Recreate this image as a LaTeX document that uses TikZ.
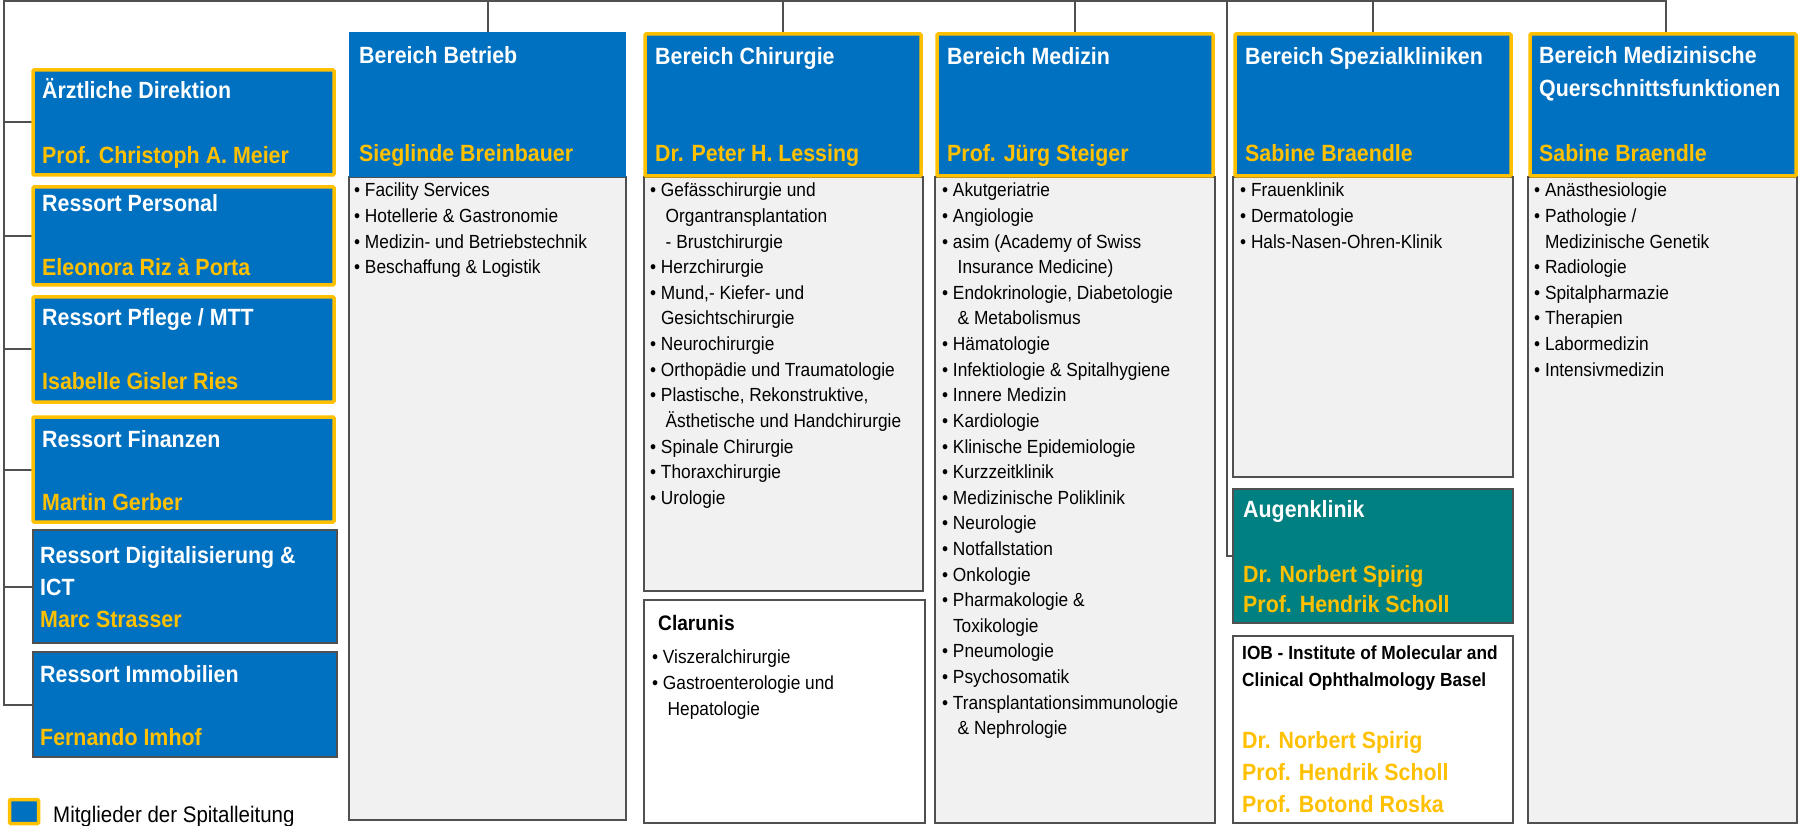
\documentclass[tikz,border=0pt]{standalone}
\usepackage{fontspec}
\setmainfont{Liberation Sans}[FakeStretch=0.91]
\definecolor{ksbblue}{RGB}{0,112,192}
\definecolor{ksbyellow}{RGB}{255,192,0}
\definecolor{ksbgray}{RGB}{241,241,241}
\definecolor{ksbline}{RGB}{80,80,80}
\definecolor{ksbteal}{RGB}{0,128,128}
\pgfdeclarelayer{bg}
\pgfsetlayers{bg,main}
\newcommand\bu{\makebox[10.8pt][l]{•}}
\newcommand\ct{\hspace*{10.8pt}}
\newcommand\cc{\hspace*{15.5pt}}
\newcommand\cm{,}
\newcommand\mkbox[6]{\node[#2, anchor=north west, minimum width=#5pt-#3pt, minimum height=#6pt-#4pt] (#1) at (#3,#4) {};}
\newcommand\listat[5]{\foreach \t [count=\i] in {#5} {\node[lst] (#1-\i) at ({#2},{#3+(\i-1)*#4}) {\t};}}
\tikzset{
 boxbase/.style={rectangle, inner sep=0pt, outer sep=0pt},
 lead/.style={boxbase, fill=ksbblue, draw=ksbyellow, line width=3.5pt, rounded corners=1pt},
 plainblue/.style={boxbase, fill=ksbblue, draw=ksbline, line width=2pt},
 bluehead/.style={boxbase, fill=ksbblue},
 body/.style={boxbase, fill=ksbgray, draw=ksbline, line width=2pt},
 whitebody/.style={boxbase, fill=white, draw=ksbline, line width=2pt},
 tealbox/.style={boxbase, fill=ksbteal, draw=ksbline, line width=2pt},
 conn/.style={draw=ksbline, line width=2pt},
 ttl/.style={inner sep=0pt, anchor=base west, text=white, font=\bfseries\fontsize{23.5}{28}\selectfont},
 nm/.style={ttl, text=ksbyellow},
 blk/.style={ttl, text=black, font=\bfseries\fontsize{21}{25}\selectfont},
 lst/.style={inner sep=0pt, anchor=base west, text=black, font=\fontsize{19}{23}\selectfont},
}
\begin{document}
\begin{tikzpicture}[x=1pt,y=-1pt]
\useasboundingbox (0,0) rectangle (1800,826);
\clip (0,0) rectangle (1800,826);
% column bodies
\mkbox{betriebB}{body}{349}{177}{626}{820}
\mkbox{chirB}{body}{644}{177}{923}{591}
\mkbox{clarunis}{whitebody}{644}{600}{925}{823}
\mkbox{medB}{body}{935}{177}{1215}{823}
\mkbox{spezB}{body}{1233}{177}{1513}{477}
\mkbox{augen}{tealbox}{1233}{489}{1513}{623}
\mkbox{iob}{whitebody}{1233}{636}{1513}{823}
\mkbox{querB}{body}{1528}{177}{1797}{823}
% column headers
\mkbox{betrieb}{bluehead}{349}{32}{626}{177}
\mkbox{chir}{lead}{645}{34}{921}{176}
\mkbox{med}{lead}{937}{34}{1213}{176}
\mkbox{spez}{lead}{1235}{34}{1511}{176}
\mkbox{quer}{lead}{1530}{34}{1796}{176}
% left column
\mkbox{aerzt}{lead}{33}{70}{334}{175}
\mkbox{personal}{lead}{33}{187}{334}{285}
\mkbox{pflege}{lead}{33}{297}{334}{402}
\mkbox{finanzen}{lead}{33}{417}{334}{522}
\mkbox{digital}{plainblue}{33}{530}{337}{643}
\mkbox{immo}{plainblue}{33}{652}{337}{757}
% legend box
\mkbox{legend}{lead}{9.5}{799.5}{38.5}{823.5}
% connectors
\coordinate (corner) at (3.5,1.2);
\coordinate (querbus) at (1666,1.2);
\coordinate (augbus) at (1227,1.2);
\begin{pgfonlayer}{bg}
\draw[conn] (immo.west) -| (corner) -- (querbus) -- (querbus |- quer.north);
\foreach \b in {aerzt,personal,pflege,finanzen,digital} {\draw[conn] (\b.west) -- (\b.west -| corner);}
\foreach \b in {betrieb,chir,med,spez} {\draw[conn] (\b.north) -- (\b.north |- corner);}
\draw[conn] (augen.west) -| (augbus);
\end{pgfonlayer}
% left texts
\node[ttl] (aerzt-t) at (42,99) {Ärztliche Direktion};
\node[nm] (aerzt-n) at (42,164) {Prof. Christoph A. Meier};
\node[ttl] (personal-t) at (42,212) {Ressort Personal};
\node[nm] (personal-n) at (42,276) {Eleonora Riz à Porta};
\node[ttl] (pflege-t) at (42,326) {Ressort Pflege / MTT};
\node[nm] (pflege-n) at (42,390) {Isabelle Gisler Ries};
\node[ttl] (finanzen-t) at (42,447) {Ressort Finanzen};
\node[nm] (finanzen-n) at (42,510) {Martin Gerber};
\node[ttl] (digital-t1) at (40,563) {Ressort Digitalisierung \&};
\node[ttl] (digital-t2) at (40,595) {ICT};
\node[nm] (digital-n) at (40,627) {Marc Strasser};
\node[ttl] (immo-t) at (40,682) {Ressort Immobilien};
\node[nm] (immo-n) at (40,745) {Fernando Imhof};
% header texts
\node[ttl] (betrieb-t) at (359,64) {Bereich Betrieb};
\node[nm] (betrieb-n) at (359,162) {Sieglinde Breinbauer};
\node[ttl] (chir-t) at (655,65) {Bereich Chirurgie};
\node[nm] (chir-n) at (655,162) {Dr. Peter H. Lessing};
\node[ttl] (med-t) at (947,65) {Bereich Medizin};
\node[nm] (med-n) at (947,162) {Prof. Jürg Steiger};
\node[ttl] (spez-t) at (1245,65) {Bereich Spezialkliniken};
\node[nm] (spez-n) at (1245,162) {Sabine Braendle};
\node[ttl] (quer-t1) at (1539,64) {Bereich Medizinische};
\node[ttl] (quer-t2) at (1539,97) {Querschnittsfunktionen};
\node[nm] (quer-n) at (1539,162) {Sabine Braendle};
% Augenklinik and IOB
\node[ttl] (augen-t) at (1243,517) {Augenklinik};
\node[nm] (augen-n1) at (1243,582) {Dr. Norbert Spirig};
\node[nm] (augen-n2) at (1243,612) {Prof. Hendrik Scholl};
\node[blk, font=\bfseries\fontsize{19}{23}\selectfont] (iob-t1) at (1242,659) {IOB - Institute of Molecular and};
\node[blk, font=\bfseries\fontsize{19}{23}\selectfont] (iob-t2) at (1242,686) {Clinical Ophthalmology Basel};
\node[nm] (iob-n1) at (1242,748) {Dr. Norbert Spirig};
\node[nm] (iob-n2) at (1242,780) {Prof. Hendrik Scholl};
\node[nm] (iob-n3) at (1242,812) {Prof. Botond Roska};
% Clarunis
\node[blk] (clarunis-t) at (658,630) {Clarunis};
% lists
\listat{betriebL}{354}{197}{25.6}{\bu Facility Services, \bu Hotellerie \& Gastronomie, \bu Medizin- und Betriebstechnik, \bu Beschaffung \& Logistik}
\listat{chirL}{650}{197}{25.6}{\bu Gefässchirurgie und, \cc Organtransplantation, \cc - Brustchirurgie, \bu Herzchirurgie, \bu Mund\cm- Kiefer- und, \ct Gesichtschirurgie, \bu Neurochirurgie, \bu Orthopädie und Traumatologie, \bu Plastische\cm\ Rekonstruktive\cm, \cc Ästhetische und Handchirurgie, \bu Spinale Chirurgie, \bu Thoraxchirurgie, \bu Urologie}
\listat{medL}{942}{197}{25.6}{\bu Akutgeriatrie, \bu Angiologie, \bu asim (Academy of Swiss, \cc Insurance Medicine), \bu Endokrinologie\cm\ Diabetologie, \cc \& Metabolismus, \bu Hämatologie, \bu Infektiologie \& Spitalhygiene, \bu Innere Medizin, \bu Kardiologie, \bu Klinische Epidemiologie, \bu Kurzzeitklinik, \bu Medizinische Poliklinik, \bu Neurologie, \bu Notfallstation, \bu Onkologie, \bu Pharmakologie \&, \ct Toxikologie, \bu Pneumologie, \bu Psychosomatik, \bu Transplantationsimmunologie, \cc \& Nephrologie}
\listat{spezL}{1240}{197}{25.6}{\bu Frauenklinik, \bu Dermatologie, \bu Hals-Nasen-Ohren-Klinik}
\listat{querL}{1534}{197}{25.6}{\bu Anästhesiologie, \bu Pathologie /, \ct Medizinische Genetik, \bu Radiologie, \bu Spitalpharmazie, \bu Therapien, \bu Labormedizin, \bu Intensivmedizin}
\listat{clarunisL}{652}{663}{26}{\bu Viszeralchirurgie, \bu Gastroenterologie und, \cc Hepatologie}
% legend text
\node[lst, font=\fontsize{22.5}{26}\selectfont] (legend-t) at (53,822) {Mitglieder der Spitalleitung};
\end{tikzpicture}
\end{document}
